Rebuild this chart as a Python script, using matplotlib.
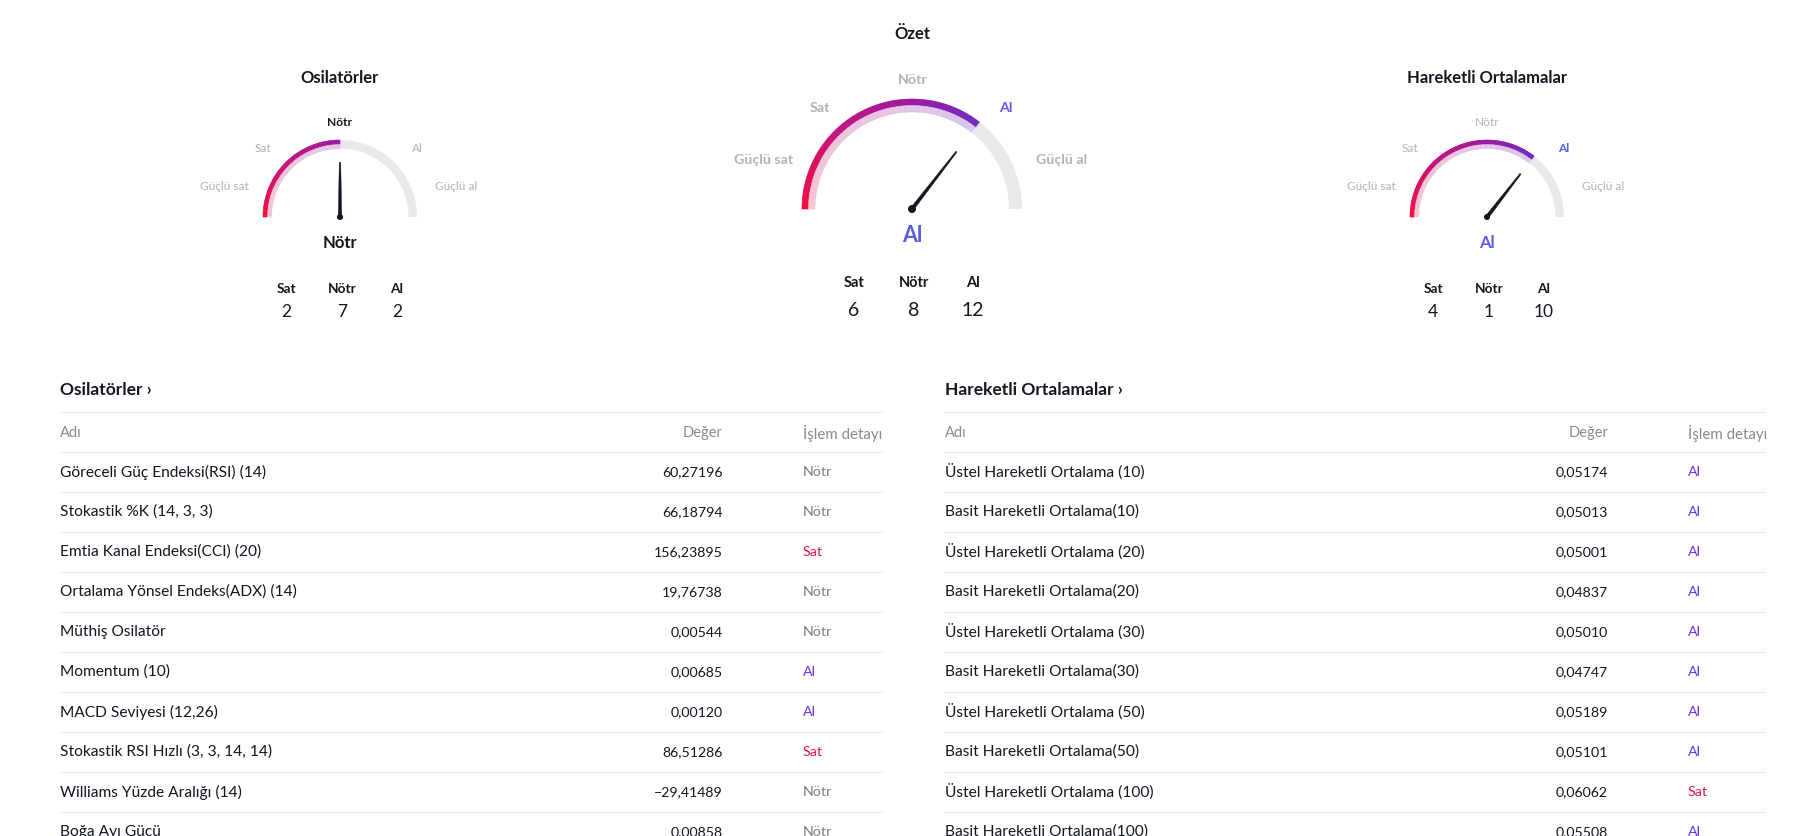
import numpy as np
import matplotlib.pyplot as plt
from matplotlib.patches import Wedge, Polygon, Circle, Rectangle
from matplotlib.colors import LinearSegmentedColormap

plt.rcParams['font.family'] = ['Lato', 'DejaVu Sans']

# --- gauge data ---
gauge_titles = ['Osilatörler', 'Özet', 'Hareketli Ortalamalar']
gauge_values = [0.0, 0.42, 0.42]          # -1 (güçlü sat) .. 1 (güçlü al)
gauge_status = ['Nötr', 'Al', 'Al']
scale_labels = ['Güçlü sat', 'Sat', 'Nötr', 'Al', 'Güçlü al']
count_labels = ['Sat', 'Nötr', 'Al']
sell_counts = [2, 6, 4]
neutral_counts = [7, 8, 1]
buy_counts = [2, 12, 10]

# --- table data ---
osc_names = ['Göreceli Güç Endeksi(RSI) (14)', 'Stokastik %K (14, 3, 3)',
             'Emtia Kanal Endeksi(CCI) (20)', 'Ortalama Yönsel Endeks(ADX) (14)',
             'Müthiş Osilatör', 'Momentum (10)', 'MACD Seviyesi (12,26)',
             'Stokastik RSI Hızlı (3, 3, 14, 14)', 'Williams Yüzde Aralığı (14)',
             'Boğa Ayı Gücü']
osc_values = [60.27196, 66.18794, 156.23895, 19.76738, 0.00544, 0.00685,
              0.00120, 86.51286, -29.41489, 0.00858]
osc_signals = ['Nötr', 'Nötr', 'Sat', 'Nötr', 'Nötr', 'Al', 'Al', 'Sat', 'Nötr', 'Nötr']

ma_names = ['Üstel Hareketli Ortalama (10)', 'Basit Hareketli Ortalama(10)',
            'Üstel Hareketli Ortalama (20)', 'Basit Hareketli Ortalama(20)',
            'Üstel Hareketli Ortalama (30)', 'Basit Hareketli Ortalama(30)',
            'Üstel Hareketli Ortalama (50)', 'Basit Hareketli Ortalama(50)',
            'Üstel Hareketli Ortalama (100)', 'Basit Hareketli Ortalama(100)']
ma_values = [0.05174, 0.05013, 0.05001, 0.04837, 0.05010, 0.04747,
             0.05189, 0.05101, 0.06062, 0.05508]
ma_signals = ['Al', 'Al', 'Al', 'Al', 'Al', 'Al', 'Al', 'Al', 'Sat', 'Al']

DARK = '#131722'
GREY_LBL = '#b2b2b6'
BLUE = '#5b5ce6'
table_colors = {'Al': '#6a2ee0', 'Sat': '#e0194a', 'Nötr': '#7f7f7f'}
status_colors = {'Al': BLUE, 'Sat': '#e0194a', 'Nötr': DARK}

outer_cmap = LinearSegmentedColormap.from_list(
    'outer', [(0, '#f20a3c'), (0.25, '#c4107a'), (0.5, '#9a16a0'),
              (0.72, '#6d28c0'), (1, '#5a55e0')])
inner_cmap = LinearSegmentedColormap.from_list(
    'inner', [(0, '#f9c3d1'), (0.5, '#e4c4e8'), (0.72, '#d6c6f0'), (1, '#d0d0f5')])

fig = plt.figure(figsize=(18.16, 8.36), dpi=100)
ax = fig.add_axes([0, 0, 1, 1])
ax.set_xlim(0, 1816)
ax.set_ylim(836, 0)
ax.axis('off')

small = dict(R=77, w_dark=4.5, w_light=4, title_dy=-139, lbl_fs=8.6, lbl_w='normal',
             offs=[(-116, -31), (-77, -69), (0, -95), (77, -69), (116, -31)],
             status_dy=26, status_fs=12, cnt_dx=[-54, 2, 57], cnt_hy=72, cnt_ny=95,
             cnt_hfs=9.8, cnt_nfs=12.5, needle=0.71, dot=3)
big = dict(R=110, w_dark=6.5, w_light=6.5, title_dy=-175, lbl_fs=10.3, lbl_w='bold',
           offs=[(-148, -49), (-92, -101), (1, -129), (94, -101), (150, -49)],
           status_dy=26, status_fs=15.5, cnt_dx=[-58, 2, 61], cnt_hy=74, cnt_ny=101,
           cnt_hfs=10.5, cnt_nfs=14, needle=0.66, dot=4)
gauge_layout = [((340, 217), small), ((912, 209), big), ((1487, 217), small)]


def active_label(v):
    if v < -0.5:
        return 0
    if v < -0.1:
        return 1
    if v <= 0.1:
        return 2
    if v <= 0.5:
        return 3
    return 4


for i, ((cx, cy), L) in enumerate(gauge_layout):
    v = gauge_values[i]
    ang = 90 - 90 * v
    R = L['R']
    wd, wl = L['w_dark'], L['w_light']
    # grey remainder
    ax.add_patch(Wedge((cx, cy), R, -ang, 0, width=wd + wl,
                       facecolor='#e9e9ec', edgecolor='none'))
    # gradient part from 180 deg down to needle angle
    edges = np.arange(180, ang - 1e-9, -1.0)
    if edges[-1] > ang:
        edges = np.append(edges, ang)
    for a1, a0 in zip(edges[:-1], edges[1:]):
        t = (180 - (a0 + a1) / 2) / 180
        ax.add_patch(Wedge((cx, cy), R, -a1, -a0, width=wd,
                           facecolor=outer_cmap(t), edgecolor=outer_cmap(t), lw=0.4))
        ax.add_patch(Wedge((cx, cy), R - wd, -a1, -a0, width=wl,
                           facecolor=inner_cmap(t), edgecolor=inner_cmap(t), lw=0.4))
    # needle
    rad = np.deg2rad(ang)
    d = np.array([np.cos(rad), -np.sin(rad)])
    p = np.array([-d[1], d[0]])
    tip = np.array([cx, cy]) + d * R * L['needle']
    base = np.array([cx, cy])
    ax.add_patch(Polygon([base + p * 1.8, tip + p * 0.7, tip - p * 0.7, base - p * 1.8],
                         closed=True, facecolor=DARK, edgecolor=DARK, lw=0.3))
    ax.add_patch(Circle((cx, cy), L['dot'], facecolor=DARK, edgecolor='none'))

    # title
    ax.text(cx, cy + L['title_dy'], gauge_titles[i], ha='center', va='center',
            fontsize=12, fontweight='bold', color=DARK)
    # scale labels
    act = active_label(v)
    for k, (lbl, (dx, dy)) in enumerate(zip(scale_labels, L['offs'])):
        if k == act:
            col = status_colors[gauge_status[i]]
            w = 'bold'
        else:
            col = GREY_LBL
            w = L['lbl_w']
        ax.text(cx + dx, cy + dy, lbl, ha='center', va='center',
                fontsize=L['lbl_fs'], fontweight=w, color=col)
    # status
    ax.text(cx, cy + L['status_dy'], gauge_status[i], ha='center', va='center',
            fontsize=L['status_fs'], fontweight='bold',
            color=status_colors[gauge_status[i]])
    # counts
    counts = [sell_counts[i], neutral_counts[i], buy_counts[i]]
    for dx, lbl, n in zip(L['cnt_dx'], count_labels, counts):
        ax.text(cx + dx, cy + L['cnt_hy'], lbl, ha='center', va='center',
                fontsize=L['cnt_hfs'], fontweight='bold', color=DARK)
        ax.text(cx + dx, cy + L['cnt_ny'], str(n), ha='center', va='center',
                fontsize=L['cnt_nfs'], color=DARK)


def fmt(x):
    s = f'{abs(x):.5f}'.replace('.', ',')
    return ('\u2212' if x < 0 else '') + s


def draw_table(x0, x1, xval, xsig, title, names, values, signals):
    line_c = '#ececec'
    ax.text(x0, 390, title + ' \u203a', ha='left', va='center', fontsize=12.5,
            fontweight='bold', color=DARK)
    ax.plot([x0, x1], [412, 412], color=line_c, lw=0.9)
    ax.text(x0, 433, 'Adı', ha='left', va='center', fontsize=10.5, color='#8a8a8a')
    ax.text(xval, 433, 'Değer', ha='right', va='center', fontsize=10.5, color='#8a8a8a')
    t = ax.text(xsig, 433, 'İşlem detayı', ha='left', va='center', fontsize=10.8,
                color='#8a8a8a')
    clip = Rectangle((x0, 380), x1 - x0, 460, transform=ax.transData)
    t.set_clip_path(clip)
    ax.plot([x0, x1], [452, 452], color=line_c, lw=0.9)
    for r, (nm, val, sig) in enumerate(zip(names, values, signals)):
        y = 472 + 40 * r
        ax.text(x0, y, nm, ha='left', va='center', fontsize=11.2, color=DARK)
        ax.text(xval, y, fmt(val), ha='right', va='center', fontsize=10.2, color=DARK)
        ax.text(xsig, y, sig, ha='left', va='center', fontsize=10.3,
                color=table_colors[sig])
        ax.plot([x0, x1], [y + 20, y + 20], color=line_c, lw=0.9)


draw_table(60, 882, 723, 803, 'Osilatörler', osc_names, osc_values, osc_signals)
draw_table(945, 1765, 1608, 1688, 'Hareketli Ortalamalar', ma_names, ma_values, ma_signals)

fig.savefig('out.png', dpi=100, facecolor='white')
